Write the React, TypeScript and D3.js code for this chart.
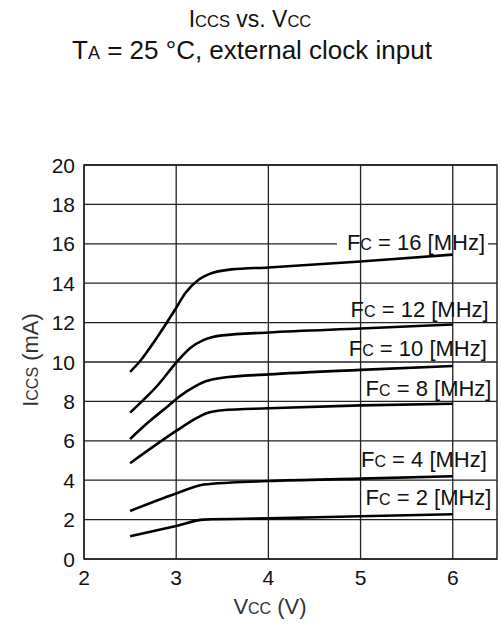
import React from "react";
import * as d3 from "d3";

const xTicks = [2, 3, 4, 5, 6];
const yTicks = [0, 2, 4, 6, 8, 10, 12, 14, 16, 18, 20];

const series16: [number, number][] = [[2.5, 9.5], [2.6, 10.0], [2.8, 11.3], [3.0, 12.75], [3.1, 13.5], [3.25, 14.2], [3.35, 14.45], [3.6, 14.7], [4, 14.8], [5, 15.1], [6, 15.45]];
const series12: [number, number][] = [[2.5, 7.43], [2.65, 8.1], [2.8, 8.82], [3.0, 9.97], [3.15, 10.7], [3.3, 11.12], [3.5, 11.35], [4, 11.5], [5, 11.7], [6, 11.9]];
const series10: [number, number][] = [[2.5, 6.09], [2.7, 6.95], [2.9, 7.72], [3.05, 8.3], [3.2, 8.75], [3.32, 9.02], [3.5, 9.2], [4, 9.37], [5, 9.6], [6, 9.8]];
const series8: [number, number][] = [[2.5, 4.86], [3.0, 6.5], [3.2, 7.1], [3.33, 7.4], [3.5, 7.55], [4, 7.65], [5, 7.8], [6, 7.88]];
const series4: [number, number][] = [[2.5, 2.44], [3.0, 3.33], [3.3, 3.78], [3.6, 3.88], [4, 3.96], [5, 4.08], [6, 4.2]];
const series2: [number, number][] = [[2.5, 1.15], [3.0, 1.68], [3.3, 2.0], [4, 2.06], [5, 2.17], [6, 2.27]];

const seriesList = [series16, series12, series10, series8, series4, series2];
const freqLabels = ["16", "12", "10", "8", "4", "2"];
// label anchor values (mA) at which each label is vertically centred
const labelY = [16.1, 12.69, 10.71, 8.7, 5.08, 3.16];
const labelRightV = [6.35, 6.39, 6.37, 6.42, 6.37, 6.42];

const FONT = "'Liberation Sans', Arial, sans-serif";

export default function App() {
  const W = 501, H = 627;
  const x = d3.scaleLinear().domain([2, 6.48]).range([84, 497]);
  const y = d3.scaleLinear().domain([0, 20]).range([559, 165]);
  const line = d3.line<[number, number]>().x(d => x(d[0])).y(d => y(d[1])).curve(d3.curveMonotoneX);
  const grid = "#222";
  const fs = 22;
  const sub = 16;
  const tfs = 21;

  return (
    <svg width={W} height={H} style={{ position: "absolute", left: 0, top: 0, background: "#fff" }} fontFamily={FONT}>
      <text x={250} y={27} textAnchor="middle" fontSize={23} fill="#111">
        I<tspan fontSize={16.5}>CCS</tspan> vs. V<tspan fontSize={16.5}>CC</tspan>
      </text>
      <text x={252} y={59} textAnchor="middle" fontSize={26} fill="#111">
        T<tspan fontSize={18}>A</tspan> = 25 °C, external clock input
      </text>

      {yTicks.map(t => (
        <line key={"h" + t} x1={x(2)} x2={x(6.48)} y1={y(t)} y2={y(t)} stroke={grid} strokeWidth={1.3} />
      ))}
      <rect x={337} y={y(16) - 3} width={151} height={6} fill="#fff" />
      {xTicks.map(t => (
        <line key={"v" + t} x1={x(t)} x2={x(t)} y1={y(0)} y2={y(20)} stroke={grid} strokeWidth={1.3} />
      ))}
      <rect x={x(2)} y={y(20)} width={x(6.48) - x(2)} height={y(0) - y(20)} fill="none" stroke={grid} strokeWidth={1.5} />

      {seriesList.map((s, i) => (
        <path key={"s" + i} d={line(s) || ""} fill="none" stroke="#000" strokeWidth={2.6} />
      ))}

      {freqLabels.map((f, i) => (
        <text key={"l" + i} x={x(labelRightV[i])} y={y(labelY[i]) + 8} textAnchor="end" fontSize={fs} fill="#111">
          F<tspan fontSize={sub}>C</tspan> = {f} [MHz]
        </text>
      ))}

      {yTicks.map(t => (
        <text key={"yt" + t} x={75} y={y(t) + 7.5} textAnchor="end" fontSize={tfs} fill="#111">{t}</text>
      ))}
      {xTicks.map(t => (
        <text key={"xt" + t} x={x(t)} y={585} textAnchor="middle" fontSize={tfs} fill="#111">{t}</text>
      ))}
      <text x={270} y={614} textAnchor="middle" fontSize={fs} fill="#333">
        V<tspan fontSize={sub}>CC</tspan> (V)
      </text>
      <text transform={`translate(38,360) rotate(-90)`} textAnchor="middle" fontSize={fs} fill="#333">
        I<tspan fontSize={sub}>CCS</tspan> (mA)
      </text>
    </svg>
  );
}
